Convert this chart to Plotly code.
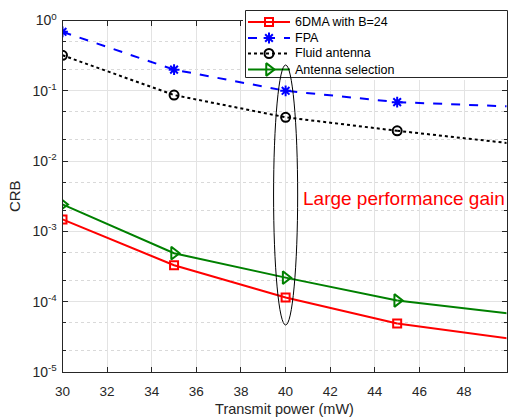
import plotly.graph_objects as go

power = [30, 35, 40, 45, 50]
crb_6dma = [1.48e-3, 3.3e-4, 1.15e-4, 4.9e-5, 3.0e-5]
crb_fpa = [0.69, 0.20, 0.10, 0.069, 0.060]
crb_fluid = [0.32, 0.087, 0.042, 0.027, 0.018]
crb_sel = [2.42e-3, 4.9e-4, 2.2e-4, 1.04e-4, 6.8e-5]

names = ["6DMA with B=24", "FPA", "Fluid antenna", "Antenna selection"]
series = [crb_6dma, crb_fpa, crb_fluid, crb_sel]
colors = ["#FF0000", "#0000FF", "#000000", "#008000"]
dashes = ["solid", "dash", "dot", "solid"]
symbols = ["square-open", "asterisk-open", "circle-open", "triangle-right-open"]
msizes = [8, 9, 9, 11]

xticks = [30, 32, 34, 36, 38, 40, 42, 44, 46, 48]
yticks = [1e-5, 1e-4, 1e-3, 1e-2, 1e-1, 1]
yticktext = ["10<sup>-5</sup>", "10<sup>-4</sup>", "10<sup>-3</sup>", "10<sup>-2</sup>", "10<sup>-1</sup>", "10<sup>0</sup>"]

W, H = 509, 418
L, R, T, B = 62.5, 506.5, 20.5, 372  # plot area in pixels

fig = go.Figure()
for nm, ys, c, d, s, ms in zip(names, series, colors, dashes, symbols, msizes):
    fig.add_trace(go.Scatter(x=power[3:], y=ys[3:], mode="lines",
                             line=dict(color=c, width=2, dash=d),
                             showlegend=False, hoverinfo="skip"))
    fig.add_trace(go.Scatter(x=power[:4], y=ys[:4], mode="lines+markers", name=nm,
                             line=dict(color=c, width=2, dash=d), showlegend=False,
                             marker=dict(symbol=s, size=ms, color=c,
                                         line=dict(color=c, width=2))))

# MATLAB-style legend drawn in a separate (hidden) subplot on top of the main one
LX0, LX1, LY0, LY1 = 243, 509, 8, 80
rows = [22, 38, 53.5, 69.5]
for nm, c, d, s, ms, ry in zip(names, colors, dashes, symbols, msizes, rows):
    fig.add_trace(go.Scatter(x=[248, 290], y=[ry, ry], mode="lines", xaxis="x2", yaxis="y2",
                             line=dict(color=c, width=2, dash=d), showlegend=False,
                             hoverinfo="skip"))
    fig.add_trace(go.Scatter(x=[269], y=[ry], mode="markers", xaxis="x2", yaxis="y2",
                             marker=dict(symbol=s, size=ms, color=c, line=dict(color=c, width=2)),
                             showlegend=False, hoverinfo="skip"))
    fig.add_annotation(text=nm, xref="x2", yref="y2", x=293, y=ry, xanchor="left",
                       yanchor="middle", showarrow=False,
                       font=dict(size=12.5, color="#000000"))

fig.add_shape(type="rect", xref="x2", yref="y2", x0=245.5, x1=507.5, y0=10.5, y1=77.5,
              line=dict(color="#262626", width=1), fillcolor="white", layer="below")

axcol = "#262626"
fig.update_layout(
    width=W, height=H,
    margin=dict(l=0, r=0, t=0, b=0),
    template="none",
    paper_bgcolor="white", plot_bgcolor="white",
    font=dict(family="Liberation Sans, Arial, sans-serif", size=13, color=axcol),
    showlegend=False,
    xaxis=dict(domain=[L / W, R / W], range=[30, 49.9], tickvals=xticks,
               ticks="inside", ticklen=5, tickcolor=axcol, ticklabelstandoff=7,
               tickfont=dict(size=13.5),
               showline=True, linecolor=axcol, linewidth=1, mirror="ticks",
               showgrid=True, gridcolor="#e3e3e3", gridwidth=1, zeroline=False,
               title=dict(text="Transmit power (mW)", font=dict(size=14.5), standoff=5)),
    yaxis=dict(domain=[(H - B) / H, (H - T) / H], type="log", range=[-5, 0],
               tickvals=yticks, ticktext=yticktext, tickcolor=axcol,
               tickfont=dict(size=14), ticklabelstandoff=2,
               ticks="inside", ticklen=5, showline=True, linecolor=axcol, linewidth=1,
               mirror="ticks", showgrid=True, gridcolor="#e3e3e3", gridwidth=1,
               zeroline=False,
               minor=dict(ticks="inside", ticklen=3, tickcolor=axcol, showgrid=True,
                          gridcolor="#d9d9d9", griddash="dot", gridwidth=1),
               title=dict(text="CRB", font=dict(size=15), standoff=8)),
    xaxis2=dict(domain=[LX0 / W, LX1 / W], range=[LX0, LX1], visible=False,
                anchor="y2", fixedrange=True),
    yaxis2=dict(domain=[(H - LY1) / H, (H - LY0) / H], range=[LY1, LY0], visible=False,
                anchor="x2", fixedrange=True),
)

# ellipse around x = 40
fig.add_shape(type="circle", xref="x", yref="paper",
              x0=39.46, x1=40.54, y0=(H - 325) / H, y1=(H - 65) / H,
              line=dict(color="black", width=1), layer="above")

fig.add_annotation(text="Large performance gain", xref="paper", yref="paper",
                   x=301 / W, y=(H - 198) / H, xanchor="left", yanchor="middle",
                   showarrow=False, font=dict(size=19, color="#FF0000"))

fig.write_html("out.html")
